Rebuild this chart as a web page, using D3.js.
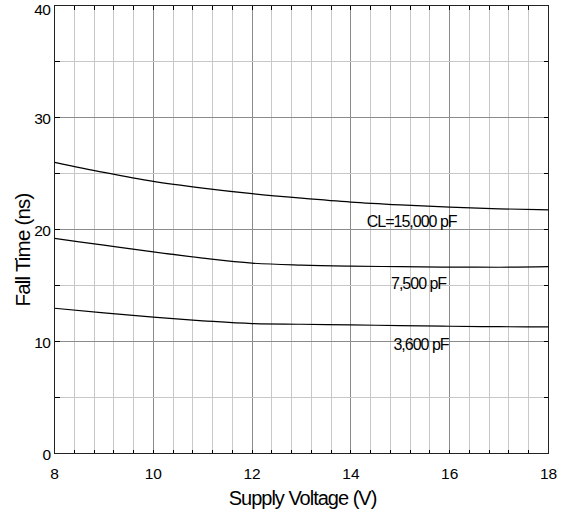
<!DOCTYPE html>
<html>
<head>
<meta charset="utf-8">
<script src="https://cdn.jsdelivr.net/npm/d3@7"></script>
<style>
  body { margin: 0; background: #fff; }
  svg { display: block; font-family: "Liberation Sans", Arial, sans-serif; }
</style>
</head>
<body>
<div id="chart"></div>
<script>
// Supply voltage (V) sample points
const voltages = [8, 9, 10, 11, 12, 13, 14, 15, 16, 17, 18];
// Fall time (ns) per load capacitance
const fall15000 = [26.0, 25.1, 24.3, 23.7, 23.2, 22.8, 22.45, 22.2, 22.0, 21.85, 21.75];
const fall7500 = [19.2, 18.6, 18.0, 17.45, 17.0, 16.82, 16.73, 16.68, 16.64, 16.63, 16.68];
const fall3600 = [12.97, 12.55, 12.17, 11.85, 11.6, 11.54, 11.48, 11.42, 11.36, 11.32, 11.3];
const seriesNames = ['CL=15,000 pF', '7,500 pF', '3,600 pF'];
// label anchor points in data units (V, ns)
const labelV = [15.23, 15.37, 15.42];
const labelNs = [20.2, 14.7, 9.2];

const xTicks = [8, 10, 12, 14, 16, 18];
const yTicks = [0, 10, 20, 30, 40];

const width = 574, height = 518;
const plotLeft = 54.5, plotRight = 548.5, plotTop = 5.5, plotBottom = 453.5;

const svg = d3.select('#chart').append('svg')
  .attr('width', width)
  .attr('height', height);

const x = d3.scaleLinear().domain([8, 18]).range([plotLeft, plotRight]);
const y = d3.scaleLinear().domain([0, 40]).range([plotBottom, plotTop]);

const minorX = d3.range(0, 26).map(i => 8 + i * 0.4);
const minorY = d3.range(0, 9).map(i => i * 5);
const snap = v => Math.round(v - 0.5) + 0.5;
const isMajorX = v => Math.abs(v / 2 - Math.round(v / 2)) < 0.01;

// Grid
const grid = svg.append('g').attr('shape-rendering', 'crispEdges');
grid.selectAll('line.vx')
  .data(minorX.filter(v => v > 8.01 && v < 17.99))
  .join('line')
  .attr('x1', d => snap(x(d))).attr('x2', d => snap(x(d)))
  .attr('y1', plotTop).attr('y2', plotBottom)
  .attr('stroke', d => isMajorX(d) ? '#8c8c8c' : '#c8c8c8');
grid.selectAll('line.hy')
  .data(minorY.filter(v => v > 0 && v < 40))
  .join('line')
  .attr('y1', d => snap(y(d))).attr('y2', d => snap(y(d)))
  .attr('x1', plotLeft).attr('x2', plotRight)
  .attr('stroke', d => d % 10 === 0 ? '#8c8c8c' : '#c8c8c8');

// Frame ticks (inward)
const ticks = svg.append('g').attr('stroke', '#000').attr('shape-rendering', 'crispEdges');
minorX.forEach(v => {
  const px = snap(x(v));
  ticks.append('line').attr('x1', px).attr('x2', px).attr('y1', plotTop).attr('y2', plotTop + 4);
  ticks.append('line').attr('x1', px).attr('x2', px).attr('y1', plotBottom).attr('y2', plotBottom - 4);
});
minorY.forEach(v => {
  const py = snap(y(v));
  ticks.append('line').attr('y1', py).attr('y2', py).attr('x1', plotLeft).attr('x2', plotLeft + 5);
  ticks.append('line').attr('y1', py).attr('y2', py).attr('x1', plotRight).attr('x2', plotRight - 5);
});

// Frame
svg.append('rect')
  .attr('x', plotLeft).attr('y', plotTop)
  .attr('width', plotRight - plotLeft).attr('height', plotBottom - plotTop)
  .attr('fill', 'none')
  .attr('stroke', '#222')
  .attr('shape-rendering', 'crispEdges');

// Curves
const line = d3.line()
  .x((d, i) => x(voltages[i]))
  .y(d => y(d))
  .curve(d3.curveMonotoneX);

svg.append('g')
  .selectAll('path')
  .data([fall15000, fall7500, fall3600])
  .join('path')
  .attr('d', line)
  .attr('fill', 'none')
  .attr('stroke', '#000')
  .attr('stroke-width', 1.2);

// Series labels
svg.append('g')
  .attr('font-size', 16)
  .attr('letter-spacing', -1)
  .attr('text-anchor', 'middle')
  .selectAll('text')
  .data(seriesNames)
  .join('text')
  .attr('x', (d, i) => x(labelV[i]))
  .attr('y', (d, i) => y(labelNs[i]))
  .text(d => d);

// Tick labels
svg.append('g')
  .attr('font-size', 15.5)
  .attr('text-anchor', 'middle')
  .selectAll('text')
  .data(xTicks)
  .join('text')
  .attr('x', d => x(d))
  .attr('y', plotBottom + 25)
  .text(d => d);

svg.append('g')
  .attr('font-size', 15.5)
  .attr('text-anchor', 'end')
  .selectAll('text')
  .data(yTicks)
  .join('text')
  .attr('x', plotLeft - 4)
  .attr('y', d => Math.max(y(d) + 6.5, 14.5)) // keep top label inside the page
  .attr('letter-spacing', -0.5)
  .text(d => d);

// Axis titles
svg.append('text')
  .attr('x', 302.5)
  .attr('y', 505)
  .attr('text-anchor', 'middle')
  .attr('font-size', 20)
  .attr('letter-spacing', -1)
  .text('Supply Voltage (V)');

svg.append('text')
  .attr('transform', 'translate(29.5,250) rotate(-90)')
  .attr('text-anchor', 'middle')
  .attr('font-size', 20.5)
  .attr('letter-spacing', -0.8)
  .text('Fall Time (ns)');
</script>
</body>
</html>
